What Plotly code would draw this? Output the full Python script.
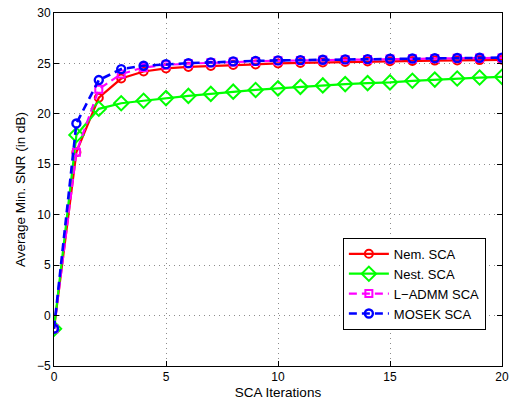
import plotly.graph_objects as go

iterations = list(range(0, 21))
nem_sca = [-1.3, 16.2, 21.6, 23.5, 24.2, 24.5, 24.65, 24.75, 24.85, 24.9, 25.0,
           25.05, 25.1, 25.15, 25.2, 25.22, 25.25, 25.28, 25.3, 25.33, 25.36]
nest_sca = [-1.3, 17.9, 20.5, 21.05, 21.3, 21.56, 21.78, 21.98, 22.2, 22.37, 22.53,
            22.68, 22.82, 22.95, 23.05, 23.12, 23.28, 23.4, 23.5, 23.6, 23.67]
ladmm_sca = [-1.3, 16.2, 22.45, 23.95, 24.6, 24.85, 24.98, 25.07, 25.15, 25.2, 25.26,
             25.3, 25.33, 25.37, 25.4, 25.43, 25.46, 25.49, 25.51, 25.53, 25.55]
mosek_sca = [-1.3, 19.05, 23.35, 24.44, 24.77, 24.93, 25.03, 25.1, 25.2, 25.25, 25.3,
             25.33, 25.36, 25.4, 25.43, 25.46, 25.49, 25.52, 25.54, 25.56, 25.58]

x_ticks = [0, 5, 10, 15, 20]
y_ticks = [-5, 0, 5, 10, 15, 20, 25, 30]

fig = go.Figure()
fig.add_trace(go.Scatter(
    x=iterations, y=nem_sca, name="Nem. SCA", mode="lines+markers",
    line=dict(color="#FF0000", width=2.2),
    marker=dict(symbol="circle-open", size=8, line=dict(width=2, color="#FF0000"))))
fig.add_trace(go.Scatter(
    x=iterations, y=nest_sca, name="Nest. SCA", mode="lines+markers",
    line=dict(color="#00FF00", width=2.2),
    marker=dict(symbol="diamond-open", size=11, line=dict(width=2, color="#00FF00"))))
fig.add_trace(go.Scatter(
    x=iterations, y=ladmm_sca, name="L\u2212ADMM SCA", mode="lines+markers",
    line=dict(color="#FF00FF", width=2.2, dash="8px,5px"),
    marker=dict(symbol="square-open", size=7, line=dict(width=2, color="#FF00FF"))))
fig.add_trace(go.Scatter(
    x=iterations, y=mosek_sca, name="MOSEK SCA", mode="lines+markers",
    line=dict(color="#0000FF", width=2.6, dash="8px,5px"),
    marker=dict(symbol="circle-open", size=8, line=dict(width=2.4, color="#0000FF"))))

axis_common = dict(
    showline=True, linecolor="black", linewidth=1, mirror="ticks",
    ticks="inside", ticklen=5, tickcolor="black", tickwidth=1,
    showgrid=True, gridcolor="#8c8c8c", griddash="1px,4px", gridwidth=1,
    zeroline=False, tickfont=dict(size=12, color="black", family="Liberation Sans"),
)

fig.update_xaxes(range=[0, 20], tickvals=x_ticks,
                 title=dict(text="SCA Iterations", standoff=4,
                            font=dict(size=13.5, color="black", family="Liberation Sans")),
                 **axis_common)
fig.update_yaxes(range=[-5, 30], tickvals=y_ticks,
                 title=dict(text="Average Min. SNR (in dB)", standoff=8,
                            font=dict(size=13.5, color="black", family="Liberation Sans")),
                 **axis_common)

fig.update_layout(
    width=516, height=403,
    margin=dict(l=54, r=14, t=13, b=37, autoexpand=False),
    plot_bgcolor="white", paper_bgcolor="white",
    font=dict(family="Liberation Sans", color="black"),
    showlegend=True,
    legend=dict(x=0.964, y=0.363, xanchor="right", yanchor="top",
                bgcolor="white", bordercolor="black", borderwidth=1,
                font=dict(size=13, color="black", family="Liberation Sans"),
                tracegroupgap=0, itemwidth=40),
)

fig.write_html("out.html", config={"displayModeBar": False},
               post_script="document.body.style.margin='0';document.body.style.overflow='hidden';")
